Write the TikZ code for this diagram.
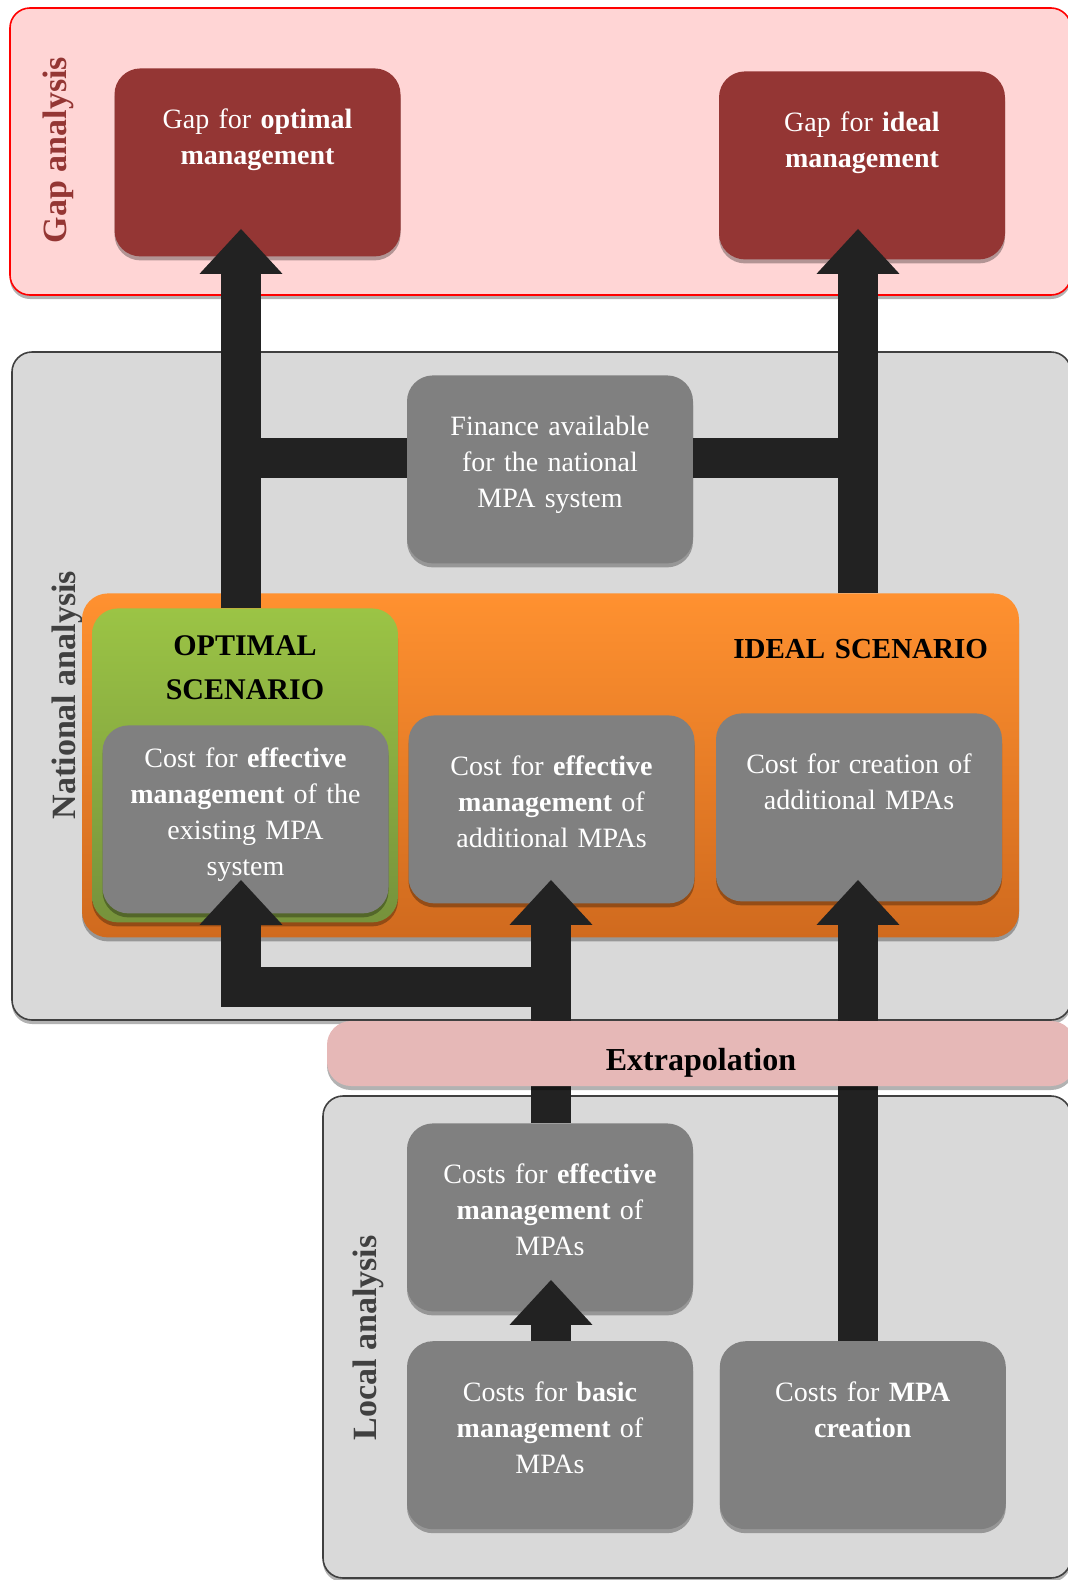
\documentclass[tikz,border=0pt]{standalone}
\usepackage{fontspec}
\setmainfont{Liberation Serif}
\usetikzlibrary{arrows.meta,calc,shadows,positioning}

\definecolor{gapred}{HTML}{943634}
\definecolor{gappink}{HTML}{FFD5D5}
\definecolor{panelgray}{HTML}{D9D9D9}
\definecolor{panelline}{HTML}{404040}
\definecolor{boxgray}{HTML}{808080}
\definecolor{arrowblack}{HTML}{222222}
\definecolor{orangetop}{HTML}{FF9130}
\definecolor{orangebot}{HTML}{D06A1E}
\definecolor{greentop}{HTML}{9BC445}
\definecolor{greenbot}{HTML}{76923C}
\definecolor{extrapink}{HTML}{E6B8B7}

\begin{document}
\begin{tikzpicture}[
    x=0.5pt, y=-0.5pt,
    font=\fontsize{14}{18}\selectfont,
    softshadow/.style={drop shadow={shadow xshift=0pt, shadow yshift=-2pt, fill=black, opacity=.3}},
    panel/.style={draw=panelline, line width=0.8pt, fill=panelgray, rounded corners=10pt, softshadow},
    box/.style={rectangle, rounded corners=13pt, fill=boxgray, text=white, text width=143pt, align=center, inner sep=0pt, text height=30pt, text depth=64pt, anchor=north, softshadow},
    gapbox/.style={box, fill=gapred},
    scenario/.style={rectangle, rounded corners=13pt, inner ysep=0pt, anchor=north, font=\fontsize{15}{22}\selectfont\bfseries, softshadow},
    sidelabel/.style={rotate=90, font=\fontsize{17}{20}\selectfont\bfseries, text=panelline},
    arrow/.style={-{Triangle[width=40pt, length=22.5pt]}, line width=20pt, draw=arrowblack},
    arrowbar/.style={line width=20pt, draw=arrowblack}
]
    \useasboundingbox (0,0) rectangle (1067,1580);

    % Panels
    \draw[panel, draw=red, fill=gappink] (10,8) rectangle (1071,295);
    \draw[panel] (12,352) rectangle (1071,1020);
    \draw[panel] (323,1096) rectangle (1071,1578);

    \node[sidelabel, text=gapred] (gaplabel) at (58,150) {Gap analysis};
    \node[sidelabel] (natlabel) at (67,695) {National analysis};
    \node[sidelabel] (loclabel) at (368,1338) {Local analysis};

    % Gap analysis
    \node[gapbox] (gapopt) at (257.5,68) {Gap for \textbf{optimal}\\\textbf{management}};
    \node[gapbox] (gapideal) at (862,71) {Gap for \textbf{ideal}\\\textbf{management}};

    % National analysis
    \node[box] (finance) at (550,375) {Finance available\\for the national\\MPA system};
    \node[scenario, top color=orangetop, bottom color=orangebot, text width=437.5pt, inner xsep=15.5pt, align=right, text height=32.5pt, text depth=139.5pt, font=\fontsize{14.5}{22}\selectfont\bfseries] (ideal) at (550.5,593) {IDEAL SCENARIO};
    \node[scenario, top color=greentop, bottom color=greenbot, text width=153pt, inner xsep=0pt, align=center, text height=23.5pt, text depth=133.5pt] (optimal) at (245,608) {OPTIMAL\\SCENARIO};
    \node[box, text height=21pt, text depth=73pt] (costopt) at (245.5,725) {Cost for \textbf{effective}\\\textbf{management} of the\\existing MPA\\system};
    \node[box] (costeff) at (551.5,715) {Cost for \textbf{effective}\\\textbf{management} of\\additional MPAs};
    \node[box] (costnew) at (859,713) {Cost for creation of\\additional MPAs};

    % Local analysis
    \node[box] (effloc) at (550,1123) {Costs for \textbf{effective}\\\textbf{management} of\\MPAs};
    \node[box, below=14.5pt of effloc] (basicloc) {Costs for \textbf{basic}\\\textbf{management} of\\MPAs};
    \node[box, right=13pt of basicloc] (creation) {Costs for \textbf{MPA}\\\textbf{creation}};

    % Arrow lanes
    \coordinate (laneA) at (241,0);
    \coordinate (laneB) at (551,0);
    \coordinate (laneC) at (858,0);
    \coordinate (joint) at (551,987);

    % Connections
    \draw[arrow] (optimal.north -| laneA) -- ($(gapopt.south -| laneA)+(0,-28)$);
    \draw[arrow] (ideal.north -| laneC) -- ($(gapideal.south -| laneC)+(0,-31)$);
    \draw[arrowbar] ($(finance.west)+(0,-11)$) -- ($(finance.west -| laneA)+(-20,-11)$);
    \draw[arrowbar] ($(finance.east)+(0,-11)$) -- ($(finance.east -| laneC)+(20,-11)$);
    \draw[arrow] (joint) -| ($(costopt.south -| laneA)+(0,-34)$);
    \draw[arrow] (effloc.north -| laneB) -- ($(costeff.south -| laneB)+(0,-24)$);
    \draw[arrow] (creation.north -| laneC) -- ($(costnew.south -| laneC)+(0,-22)$);
    \draw[arrow] (basicloc.north -| laneB) -- ($(effloc.south -| laneB)+(0,-32)$);

    % Extrapolation
    \node[rectangle, rounded corners=12pt, fill=extrapink, minimum width=374pt, inner ysep=0pt, text height=24.5pt, text depth=8pt, font=\fontsize{16}{18}\selectfont\bfseries, softshadow] (extrap) at (701,1053.5) {Extrapolation};
\end{tikzpicture}
\end{document}
